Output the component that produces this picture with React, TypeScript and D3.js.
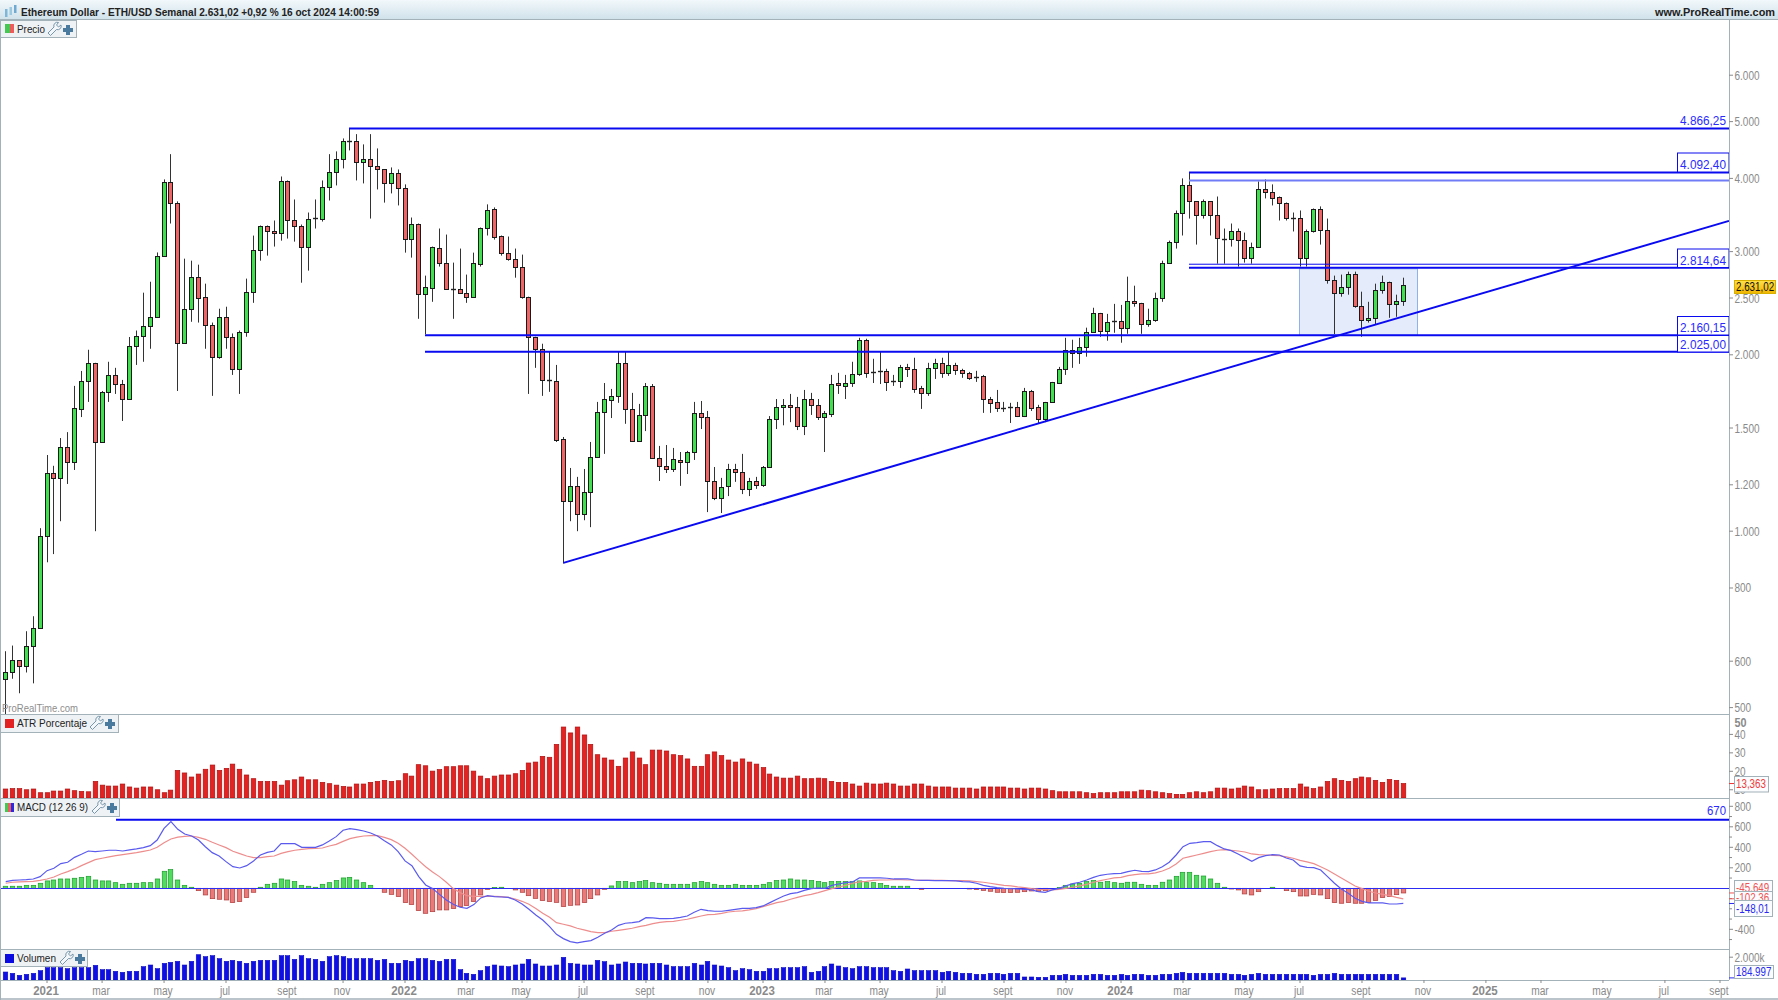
import React from "react";
import * as d3 from "d3";

const FIRST_WEEK = Date.UTC(2020, 10, 23);
const LAST_WEEK = Date.UTC(2024, 9, 14);
const WEEK = 7 * 864e5;

const opens = [560,574,602,588,636,683,980,1257,1233,1392,
1313,1617,1805,1938,1420,1728,1848,1783,1681,2072,
2155,2240,2322,2953,3938,3637,2097,2397,2719,2513,
2250,1985,2322,2147,1892,2190,2563,3024,3324,3247,
3222,3953,3403,3324,3060,3416,3416,3860,4095,4310,
4627,4627,4258,4310,4207,4143,3922,4080,3845,3158,
3350,2543,2605,3048,2873,2594,2594,2553,2513,2861,
3298,3540,3196,2988,2918,2829,2513,2147,2048,1812,
1805,1437,1126,1195,1070,1166,1339,1598,1675,1702,
1938,1617,1425,1579,1770,1333,1292,1277,1323,1313,
1365,1592,1566,1218,1139,1195,1277,1262,1181,1218,
1200,1287,1554,1630,1643,1630,1512,1681,1643,1566,
1586,1790,1770,1790,1855,2122,1863,1878,1878,1805,
1805,1907,1892,1756,1722,1900,1938,1863,1922,1885,
1863,1827,1841,1681,1662,1624,1626,1630,1572,1735,
1630,1554,1662,1790,1892,2040,2016,2064,2190,2358,
2198,2277,2286,2225,2473,2453,2259,2295,2503,2873,
3120,3498,3891,3653,3458,3653,3458,3158,3158,3259,
3145,2930,3060,3830,3786,3712,3625,3430,3430,2930,
3247,3540,3272,2687,2553,2615,2751,2425,2295,2313,
2583,2666,2443,2473];
const highs = [624,638,602,675,716,1012,1349,1293,1442,1476,
1770,1877,2040,1938,1735,1946,1900,1812,2145,2200,
2553,2665,2990,3984,4400,3655,2918,2895,2850,2645,
2270,2397,2416,2175,2200,2698,3195,3324,3324,3390,
4030,3968,3682,3337,3498,3682,3968,4400,4448,4680,
4866,4760,4572,4760,4500,4143,4176,4143,3907,3430,
3350,2730,3060,3285,3208,2873,3036,2741,2988,3298,
3612,3569,3196,3183,3036,2965,2513,2147,2089,2024,
1922,1448,1282,1238,1277,1420,1662,1790,1749,2024,
2024,1722,1649,1790,1783,1398,1403,1387,1365,1371,
1662,1668,1604,1287,1233,1303,1303,1355,1233,1238,
1292,1572,1681,1681,1715,1695,1742,1722,1681,1604,
1848,1863,1848,1946,2138,2130,1969,2024,1893,1848,
1922,1930,1977,1770,1938,1969,1977,2024,1938,1893,
1870,1878,1848,1695,1742,1662,1656,1662,1756,1742,
1643,1662,1798,1907,2138,2122,2138,2225,2406,2358,
2349,2443,2433,2719,2624,2453,2397,2553,2895,3132,
3526,4000,4092,3653,3682,3653,3725,3285,3350,3285,
3233,3108,3953,3984,3907,3725,3639,3498,3526,3272,
3554,3583,3416,2730,2741,2773,2773,2563,2463,2645,
2730,2666,2533,2708];
const lows = [486,560,529,574,550,683,885,914,1040,1204,
1272,1566,1662,1000,1415,1662,1715,1542,1681,1922,
1946,2048,2313,2953,3350,1735,2089,2277,2270,2048,
1702,1969,2048,1848,1715,2147,2453,2895,2953,3060,
3132,3158,3120,2655,2784,3285,3376,3667,3891,4160,
4465,3968,3922,3416,3830,3637,3771,3597,2988,2930,
2304,2170,2463,2829,2583,2304,2543,2453,2513,2829,
3196,3145,2953,2895,2708,2493,1715,1900,1702,1729,
1420,881,1040,1000,1044,1016,1339,1355,1560,1656,
1525,1425,1425,1482,1328,1218,1257,1262,1195,1252,
1323,1494,1078,1130,1074,1148,1214,1157,1148,1181,
1190,1287,1494,1516,1535,1488,1459,1579,1548,1365,
1566,1715,1681,1763,1841,1827,1790,1783,1735,1770,
1756,1833,1722,1617,1702,1819,1827,1841,1848,1827,
1812,1798,1592,1592,1598,1598,1530,1566,1566,1604,
1525,1535,1662,1783,1848,1900,1930,1985,2190,2147,
2114,2181,2097,2172,2416,2172,2233,2277,2463,2861,
3036,3196,3416,3084,3416,3196,2861,2861,3060,2829,
2873,2861,3048,3697,3597,3390,3390,3247,2829,2829,
3233,3084,2645,2170,2513,2533,2406,2147,2270,2250,
2543,2313,2322,2424];
const closes = [574,602,588,636,683,980,1257,1233,1392,1313,
1624,1805,1938,1420,1728,1848,1783,1681,2072,2155,
2240,2322,2953,3938,3637,2097,2397,2719,2503,2250,
1985,2322,2147,1892,2190,2563,3024,3324,3247,3222,
3953,3403,3324,3060,3416,3430,3860,4095,4310,4627,
4609,4258,4310,4207,4143,3922,4080,3845,3158,3350,
2543,2615,3060,2873,2594,2594,2553,2513,2873,3298,
3526,3183,2988,2918,2829,2513,2147,2048,1812,1805,
1431,1126,1195,1070,1166,1339,1598,1681,1702,1938,
1617,1425,1579,1770,1333,1292,1277,1328,1313,1365,
1592,1566,1218,1139,1190,1277,1262,1181,1218,1200,
1287,1554,1630,1643,1630,1512,1681,1643,1566,1592,
1783,1776,1790,1855,2122,1863,1870,1878,1798,1805,
1907,1892,1749,1722,1900,1938,1863,1922,1885,1863,
1827,1833,1681,1656,1624,1617,1624,1572,1735,1624,
1554,1662,1798,1892,2040,2016,2064,2190,2358,2198,
2277,2286,2225,2473,2453,2259,2295,2503,2873,3120,
3498,3891,3653,3458,3653,3458,3170,3158,3259,3145,
2930,3060,3830,3786,3697,3625,3430,3430,2930,3247,
3540,3272,2687,2553,2615,2751,2425,2295,2313,2583,
2666,2443,2473,2631.02];

const atr = [10.4,10.6,10.6,10.0,10.4,8.4,8.4,9.3,9.3,10.4,
9.5,9.1,8.9,14.5,12.5,12.0,12.0,13.1,11.5,10.9,
11.5,11.5,10.0,8.4,9.8,20.5,19.1,16.9,18.5,21.1,
23.4,20.5,21.6,23.9,21.1,18.0,16.0,14.5,14.5,14.5,
12.5,14.9,15.4,16.9,15.4,15.4,14.0,13.3,12.5,11.8,
11.5,13.1,13.1,14.0,14.5,15.1,14.5,14.9,18.7,17.4,
23.6,23.0,20.1,20.9,22.5,22.5,23.0,23.0,20.1,17.4,
16.0,17.4,18.0,18.0,18.7,20.5,24.5,25.0,28.1,27.6,
34.6,44.0,40.8,44.0,39.7,34.6,29.0,
27.2,26.1,22.7,27.2,30.5,27.2,23.6,31.5,31.5,31.0,
29.0,28.5,26.7,22.7,22.7,29.0,30.5,28.5,26.1,25.0,
26.7,25.0,23.9,22.0,18.5,16.9,16.3,16.3,17.4,16.0,
16.0,16.3,16.0,14.5,14.0,14.0,13.1,12.0,13.6,13.1,
13.1,13.6,13.1,12.0,12.0,13.1,13.1,12.0,11.5,11.5,
11.5,10.9,10.9,10.9,10.4,11.5,11.5,11.5,11.5,10.9,
10.9,10.4,10.9,10.9,10.4,9.5,8.9,8.9,8.9,8.9,
8.4,7.9,8.4,8.4,8.4,8.9,8.9,8.9,9.8,9.5,
8.9,8.4,7.9,7.5,7.5,8.4,8.9,
8.4,8.9,10.9,10.9,10.4,10.9,12.0,11.5,10.0,10.0,
10.4,10.6,10.6,10.6,13.1,11.5,10.6,11.5,14.5,16.0,
15.1,14.5,16.0,16.9,16.5,15.1,14.0,15.6,15.1,13.363];

const macd = [65,78,81,85,91,114,172,195,241,254,
302,332,364,358,364,371,371,364,374,384,
397,416,471,585,650,575,530,510,471,406,
348,315,260,211,198,221,267,325,351,364,
436,436,436,400,400,400,423,462,504,566,
582,572,559,540,510,465,423,358,267,221,
114,33,-3,-59,-114,-156,-185,-195,-159,-94,
-72,-81,-85,-88,-114,-153,-205,-260,-309,-374,
-449,-491,-520,-533,-520,-510,-478,
-439,-406,-361,-341,-335,-325,-286,-289,-296,-296,
-293,-283,-270,-234,-205,-218,-224,-224,-215,-205,
-195,-195,-189,-172,-140,-107,-75,-52,-42,-20,
-3,3,0,29,42,55,62,101,101,101,
101,98,91,91,91,81,78,78,75,75,
75,72,65,62,49,29,16,7,0,-3,
-7,-10,-16,-33,-39,-16,0,23,46,59,
81,107,127,137,143,146,163,176,166,163,
179,211,254,325,406,439,445,
455,455,416,384,367,335,299,263,299,319,
328,325,296,276,218,205,202,179,114,49,
-7,-49,-98,-127,-143,-143,-143,-153,-153,-148];

const signal = [49,59,62,65,68,78,91,110,140,163,
189,221,250,280,293,306,319,328,338,348,
361,374,400,445,481,500,507,510,497,478,
449,423,397,361,338,315,299,299,309,315,
341,358,371,380,387,390,393,413,429,458,
484,500,510,514,514,497,475,439,390,332,
270,211,159,114,59,-3,-42,-72,-78,-78,
-78,-78,-81,-88,-104,-127,-156,-198,-244,-283,
-335,-351,-367,-390,-406,-423,-432,
-432,-419,-410,-400,-390,-374,-361,-344,-332,-325,
-322,-312,-302,-286,-270,-257,-254,-244,-231,-224,
-221,-211,-198,-179,-159,-140,-127,-107,-88,-72,
-59,-42,-23,-3,13,29,49,62,68,78,
81,81,85,85,81,81,78,78,78,78,
75,75,75,72,65,59,49,39,29,23,
13,7,-3,-10,-13,-16,-10,0,10,23,
39,59,75,88,101,107,124,133,140,140,
150,169,195,237,293,309,325,
341,358,371,377,371,364,354,335,328,325,
322,319,306,293,273,257,241,211,179,140,
101,62,23,-3,-29,-46,-59,-72,-88,-102.36];

const histogram = [20,20,20,29,29,49,72,81,91,91,
98,107,117,81,72,72,55,39,49,49,
55,55,91,166,182,81,29,10,-23,-65,
-101,-107,-114,-140,-130,-91,-39,10,39,49,
91,81,65,29,20,10,39,55,75,101,
107,81,55,29,0,-39,-59,-81,-140,-159,
-218,-244,-228,-211,-211,-198,-179,-169,-130,-65,
-10,7,10,0,-16,-39,-72,-98,-120,-130,
-137,-179,-166,-163,-140,-101,-65,
-10,23,65,65,55,65,75,55,49,39,
39,39,39,55,65,55,39,29,29,39,
29,29,29,39,55,75,81,91,81,81,
75,65,55,65,65,65,65,72,55,55,
46,29,20,20,20,0,-10,0,0,0,
0,0,0,-7,-13,-20,-29,-39,-42,-42,
-39,-33,-26,-29,-23,0,7,29,42,49,
65,75,59,65,55,49,59,59,39,29,
29,59,81,117,156,156,127,
120,91,49,10,-7,-16,-55,-65,-33,0,
10,0,-23,-33,-75,-75,-59,-65,-101,-140,
-146,-140,-146,-146,-140,-120,-91,-81,-62,-45.65];

const volumeK = [700,584,409,496,584,818,1080,1080,1080,993,
1080,1080,1080,1285,905,905,759,672,759,759,
1168,1314,993,1460,1548,1635,1314,1635,2219,2044,
2132,1869,1635,1723,1635,1460,1635,1723,1723,1723,
2132,2132,1810,2132,1869,1810,1635,2044,2132,2044,
1869,1869,1869,1869,1723,1810,1460,1460,1723,1635,
1869,1869,1723,1635,1810,1810,905,584,496,818,
1168,1314,1226,1168,1314,1402,1810,1402,1226,1226,
1314,1986,1460,1402,1314,1314,1723,
1606,1314,1402,1577,1460,1460,1402,1460,1460,1314,
1168,1168,1168,1460,1314,1635,1314,1226,1080,818,
993,905,759,759,993,993,1080,1080,1080,1168,
672,759,1168,1402,1226,1080,993,1168,1168,1080,
1080,1080,818,759,964,818,818,818,818,672,
759,672,584,584,496,496,584,584,496,584,
584,263,263,234,234,409,409,496,409,409,
409,496,496,409,409,496,409,496,496,409,
409,496,496,584,672,584,584,
584,584,584,584,496,496,409,496,584,496,
496,496,496,496,496,496,409,496,496,584,
496,496,496,496,496,496,496,496,496,185];

const dateTicks: [string, string, boolean][] = [
  ["2021-01-04","2021",true],["2021-03-01","mar",false],["2021-05-03","may",false],["2021-07-05","jul",false],["2021-09-06","sept",false],["2021-11-01","nov",false],
  ["2022-01-03","2022",true],["2022-03-07","mar",false],["2022-05-02","may",false],["2022-07-04","jul",false],["2022-09-05","sept",false],["2022-11-07","nov",false],
  ["2023-01-02","2023",true],["2023-03-06","mar",false],["2023-05-01","may",false],["2023-07-03","jul",false],["2023-09-04","sept",false],["2023-11-06","nov",false],
  ["2024-01-01","2024",true],["2024-03-04","mar",false],["2024-05-06","may",false],["2024-07-01","jul",false],["2024-09-02","sept",false],["2024-11-04","nov",false],
  ["2025-01-06","2025",true],["2025-03-03","mar",false],["2025-05-05","may",false],["2025-07-07","jul",false],["2025-09-01","sept",false],
];
const priceTicks: [number, string][] = [[6000,"6.000"],[5000,"5.000"],[4000,"4.000"],[3000,"3.000"],[2500,"2.500"],[2000,"2.000"],[1500,"1.500"],[1200,"1.200"],[1000,"1.000"],[800,"800"],[600,"600"],[500,"500"]];
const atrTicks = [40,30,20,10];
const macdTicks: [number,string][] = [[800,"800"],[600,"600"],[400,"400"],[200,"200"],[-400,"-400"]];
const macdMinorTicks = [700,500,300,100,-100,-200,-300,-500];

const TITLE = "Ethereum Dollar - ETH/USD Semanal 2.631,02 +0,92 % 16 oct 2024 14:00:59";
const R = 1729;

const x = d3.scaleUtc().domain([FIRST_WEEK, LAST_WEEK]).range([5.7, 1403.3]);
const barX = (i: number) => Math.floor(x(FIRST_WEEK + i * WEEK));
const yP = d3.scaleLog().domain([2000, 4000]).range([354.8, 178.4]);
const yA = d3.scaleLinear().domain([20, 40]).range([771.3, 734.4]);
const yM = d3.scaleLinear().domain([0, 600]).range([888.3, 826.8]);
const yV = d3.scaleLinear().domain([0, 2000]).range([980, 957.2]);

const FONT = "'Liberation Sans', Arial, sans-serif";
const BLUE = "#0a0af0";
const TXTBLUE = "#2a2aff";
const GREY = "#8a8a8a";
const FRAME = "#a3b1b9";

// Narrow label width: the reference's labels are set tighter than Liberation Sans.
const charEm = (c: string) => {
  if (".,".includes(c)) return 0.278;
  if ("-r".includes(c)) return 0.333;
  if ("tf".includes(c)) return 0.278;
  if ("jli".includes(c)) return 0.222;
  if ("ksyv".includes(c)) return 0.5;
  if (c === "m") return 0.833;
  return 0.556;
};
const textW = (t: string, em = 10) => t.split("").reduce((a, c) => a + charEm(c), 0) * em;

function Tool({ x0, y0 }: { x0: number; y0: number }) {
  return (
    <g>
      <path d={`M${x0} ${y0+11} l6 -6 a3.5 3.5 0 0 1 4.5 -4.5 l-2 2.5 l2 2 l2.5 -2 a3.5 3.5 0 0 1 -4.5 4.5 l-6 6 z`} fill="#f4f7f9" stroke="#6a8ca3" strokeWidth={0.9} />
      <path d={`M${x0+18} ${y0+3} h4 v3 h3 v4 h-3 v3 h-4 v-3 h-3 v-4 h3 z`} fill="#4a7a9e" />
    </g>
  );
}

function Legend({ y, w, h, label, swatch, toolX, tw }: { y: number; w: number; h: number; label: string; swatch: React.ReactNode; toolX: number; tw: number }) {
  return (
    <g>
      <rect x={0.5} y={y + 0.5} width={w} height={h} fill="#eef2f5" stroke={FRAME} />
      {swatch}
      <text x={17} y={y + 13} fontSize={11} fill="#222" fontFamily={FONT} textLength={tw} lengthAdjust="spacingAndGlyphs">{label}</text>
      <Tool x0={toolX} y0={y + 2} />
    </g>
  );
}

function AxisLabel({ y, t, fill }: { y: number; t: string; fill?: string }) {
  return (
    <g>
      <line x1={R} x2={R + 4} y1={y} y2={y} stroke={GREY} />
      <text x={R + 5.5} y={y + 4.5} fontSize={12} fill={fill || GREY} fontFamily={FONT} textLength={textW(t)} lengthAdjust="spacingAndGlyphs">{t}</text>
    </g>
  );
}

function Tag({ x0, y0, w, h, t, color, bg, border }: { x0: number; y0: number; w: number; h: number; t: string; color: string; bg?: string; border?: string }) {
  return (
    <g>
      <rect x={x0 + 0.5} y={y0 + 0.5} width={w} height={h} fill={bg || "#fbfcfd"} stroke={border || FRAME} />
      <text x={x0 + 2} y={y0 + h / 2 + 4.5} fontSize={12} fill={color} fontFamily={FONT} textLength={textW(t, 9.8)} lengthAdjust="spacingAndGlyphs">{t}</text>
    </g>
  );
}

function LineText({ xr, y, t }: { xr: number; y: number; t: string }) {
  const w = textW(t, 11.8);
  return <text x={xr - w} y={y} fontSize={13} fill={TXTBLUE} fontFamily={FONT} textLength={w} lengthAdjust="spacingAndGlyphs">{t}</text>;
}

function LineLabel({ y0, h, t }: { y0: number; h: number; t: string }) {
  return (
    <g>
      <rect x={1677.5} y={y0 + 0.5} width={R - 1677.5} height={h} fill="#fff" stroke={BLUE} />
      <LineText xr={1726} y={y0 + h - 2.5} t={t} />
    </g>
  );
}

export default function App() {
  const idx = d3.range(opens.length);
  const macdLine = d3.line<number>().x((i) => x(FIRST_WEEK + i * WEEK)).y((i) => yM(macd[i]));
  const signalLine = d3.line<number>().x((i) => x(FIRST_WEEK + i * WEEK)).y((i) => yM(signal[i]));
  const x81 = x(FIRST_WEEK + 81 * WEEK);
  const hLine = (price: number, x0: number, w = 2, c = BLUE) => (
    <line x1={x0} x2={R} y1={yP(price)} y2={yP(price)} stroke={c} strokeWidth={w} />
  );
  return (
    <svg width={1778} height={1000} style={{ position: "fixed", left: 0, top: 0, background: "#fff" }} xmlns="http://www.w3.org/2000/svg">
      <defs>
        <linearGradient id="hdr" x1="0" x2="0" y1="0" y2="1">
          <stop offset="0" stopColor="#f2f8fb" />
          <stop offset="1" stopColor="#cfe1ea" />
        </linearGradient>
        <linearGradient id="tag" x1="0" x2="0" y1="0" y2="1">
          <stop offset="0" stopColor="#ffe04a" />
          <stop offset="1" stopColor="#f0b400" />
        </linearGradient>
      </defs>

      {/* shaded range */}
      <rect x={1299.5} y={yP(2814.64) + 1} width={118} height={yP(2160.15) - yP(2814.64) - 1} fill="#e4ebfb" stroke="#8fb2ee" />

      {/* candles */}
      {idx.map((i) => {
        const up = closes[i] >= opens[i];
        const top = yP(Math.max(opens[i], closes[i]));
        const bot = yP(Math.min(opens[i], closes[i]));
        const cx = barX(i);
        const t = Math.round(top), b = Math.round(bot);
        return (
          <g key={i}>
            <line x1={cx + 0.5} x2={cx + 0.5} y1={yP(highs[i])} y2={yP(lows[i])} stroke="#333" />
            {b - t < 2 ? (
              <line x1={cx - 2} x2={cx + 3} y1={t + 0.5} y2={t + 0.5} stroke="#222" strokeWidth={1.4} />
            ) : (
              <rect x={cx - 1.5} y={t + 0.5} width={4} height={b - t} fill={up ? "#3fdf4d" : "#ef6464"} stroke="#1a1a1a" strokeWidth={1} />
            )}
          </g>
        );
      })}

      {/* horizontal levels */}
      {hLine(4866.25, 349)}
      {hLine(4092.4, 1189)}
      {hLine(3968, 1189, 2, "#6f7cf6")}
      {hLine(2855, 1189, 1)}
      {hLine(2814.64, 1189)}
      {hLine(2160.15, 425)}
      {hLine(2025, 425)}
      <line x1={x81} y1={yP(883)} x2={R} y2={yP(3385)} stroke={BLUE} strokeWidth={2} />

      <LineLabel y0={152.5} h={19} t="4.092,40" />
      <LineLabel y0={248.5} h={18.5} t="2.814,64" />
      <LineLabel y0={316} h={18.5} t="2.160,15" />
      <LineLabel y0={335} h={16.5} t="2.025,00" />
      <LineText xr={1726} y={125} t="4.866,25" />

      <text x={2} y={712} fontSize={10.5} fill="#8d8d8d" fontFamily={FONT} textLength={76} lengthAdjust="spacingAndGlyphs">ProRealTime.com</text>

      {/* ATR */}
      {idx.map((i) => (
        <rect key={i} x={barX(i) - 1.75} y={yA(atr[i])} width={4.5} height={798 - yA(atr[i])} fill="#e32222" stroke="#b01010" strokeWidth={0.7} />
      ))}

      {/* MACD */}
      {idx.map((i) => {
        const v = histogram[i];
        if (v === 0) return null;
        const y0 = yM(0), y1 = yM(v);
        return (
          <rect key={i} x={barX(i) - 1.75} y={Math.min(y0, y1)} width={4.5} height={Math.abs(y1 - y0)} fill={v > 0 ? "#52dc5f" : "#e87a7a"} stroke={v > 0 ? "#1c9a2c" : "#b03a3a"} strokeWidth={0.7} />
        );
      })}
      <line x1={116} x2={R} y1={yM(670)} y2={yM(670)} stroke={BLUE} strokeWidth={2} />
      <text x={1707} y={815} fontSize={13} fill={TXTBLUE} fontFamily={FONT} textLength={19} lengthAdjust="spacingAndGlyphs">670</text>
      <line x1={0} x2={R} y1={yM(0) + 0.2} y2={yM(0) + 0.2} stroke="#2c2cf2" strokeWidth={1} />
      <path d={signalLine(idx) || ""} fill="none" stroke="#ee8d8d" strokeWidth={1.2} />
      <path d={macdLine(idx) || ""} fill="none" stroke="#5a5aee" strokeWidth={1.2} />

      {/* Volume */}
      {idx.map((i) => (
        <rect key={i} x={barX(i) - 1.75} y={yV(volumeK[i])} width={4.5} height={980 - yV(volumeK[i])} fill="#0e0ee6" stroke="#0a0ac0" strokeWidth={0.6} />
      ))}

      {/* header */}
      <rect x={0} y={0} width={1778} height={20} fill="url(#hdr)" />
      <line x1={0} x2={1778} y1={19.5} y2={19.5} stroke={FRAME} />
      <g>
        <rect x={5} y={9} width={2.5} height={8} fill="#7fb6d8" />
        <rect x={9.5} y={7} width={2.5} height={8} fill="#9cc9e2" />
        <rect x={14} y={5} width={2.5} height={8} fill="#6fa9cf" />
      </g>
      <text x={21} y={16} fontSize={11.5} fontWeight={700} fill="#222" fontFamily={FONT} textLength={358} lengthAdjust="spacingAndGlyphs">{TITLE}</text>
      <text x={1655} y={16} fontSize={11.5} fontWeight={700} fill="#222" fontFamily={FONT} textLength={120} lengthAdjust="spacingAndGlyphs">www.ProRealTime.com</text>

      {/* frames */}
      <line x1={0.5} x2={0.5} y1={20} y2={1000} stroke={FRAME} />
      <line x1={R + 0.5} x2={R + 0.5} y1={20} y2={980} stroke={FRAME} />
      <line x1={0} x2={R} y1={714.5} y2={714.5} stroke={FRAME} />
      <line x1={0} x2={R} y1={798.5} y2={798.5} stroke={FRAME} />
      <line x1={0} x2={R} y1={949.5} y2={949.5} stroke={FRAME} />
      <line x1={0} x2={R} y1={980.5} y2={980.5} stroke={FRAME} />
      <line x1={0} x2={1778} y1={999} y2={999} stroke={FRAME} strokeWidth={1.5} />

      {/* legends */}
      <Legend y={20} w={76} h={17} label="Precio" tw={28} toolX={48} swatch={<g><rect x={5} y={24} width={5} height={9} fill="#46c653" /><rect x={10} y={24} width={4} height={9} fill="#ee5b5b" /></g>} />
      <Legend y={714} w={118} h={18} label="ATR Porcentaje" tw={70} toolX={90} swatch={<rect x={5} y={719} width={9} height={9} fill="#e22222" />} />
      <Legend y={798} w={119} h={18} label="MACD (12 26 9)" tw={71} toolX={92} swatch={<g><rect x={5} y={803} width={3} height={9} fill="#46c653" /><rect x={8} y={803} width={3} height={9} fill="#ee5b5b" /><rect x={11} y={803} width={3} height={9} fill="#2a2ae0" /></g>} />
      <Legend y={949} w={87} h={17} label="Volumen" tw={39} toolX={60} swatch={<rect x={5} y={954} width={9} height={9} fill="#0a0ae0" />} />

      {/* right axes */}
      {priceTicks.map(([v, t]) => <AxisLabel key={t} y={yP(v)} t={t} />)}
      <text x={R + 5.5} y={727} fontSize={12} fontWeight={700} fill={GREY} fontFamily={FONT} textLength={12} lengthAdjust="spacingAndGlyphs">50</text>
      {atrTicks.map((v) => <AxisLabel key={v} y={yA(v)} t={String(v)} />)}
      {macdTicks.map(([v, t]) => <AxisLabel key={t} y={yM(v)} t={t} />)}
      {macdMinorTicks.map((v) => <line key={v} x1={R} x2={R + 3} y1={yM(v)} y2={yM(v)} stroke={GREY} />)}
      <AxisLabel y={yV(2000)} t="2.000k" />

      {/* value tags */}
      <Tag x0={1734} y0={280} w={41} h={13} t="2.631,02" color="#111" bg="url(#tag)" border="#d8b000" />
      <line x1={R} x2={1734} y1={yA(13.363)} y2={yA(13.363)} stroke="#ee3333" />
      <Tag x0={1734} y0={776} w={34} h={15.5} t="13,363" color="#ee3b3b" />
      <line x1={R} x2={1734} y1={yM(-45.65)} y2={yM(-45.65)} stroke="#ee5555" />
      <line x1={R} x2={1734} y1={yM(-102.36)} y2={yM(-102.36)} stroke="#ee5555" />
      <line x1={R} x2={1734} y1={yM(-148)} y2={yM(-148)} stroke="#2a2af0" />
      <Tag x0={1734} y0={880} w={38} h={15} t="-45,649" color="#ee5555" />
      <Tag x0={1734} y0={891} w={38} h={13} t="-102,36" color="#ee5555" />
      <Tag x0={1734} y0={900} w={38} h={16} t="-148,01" color="#2a2af0" />
      <line x1={R} x2={1734} y1={yV(185)} y2={yV(185)} stroke="#2a2af0" />
      <Tag x0={1734} y0={965} w={39} h={13} t="184.997" color="#2a2af0" />

      {/* date axis */}
      {dateTicks.map(([d, t, major]) => {
        const px = x(Date.parse(d + "T00:00:00Z"));
        const w = textW(t, major ? 11.5 : 10.2);
        return (
          <g key={d}>
            <line x1={px} x2={px} y1={980} y2={983} stroke={GREY} />
            <text x={px - 1 - w / 2} y={995} fontSize={major ? 13 : 12} fontWeight={major ? 700 : 400} fill={GREY} fontFamily={FONT} textLength={w} lengthAdjust="spacingAndGlyphs">{t}</text>
          </g>
        );
      })}
    </svg>
  );
}
